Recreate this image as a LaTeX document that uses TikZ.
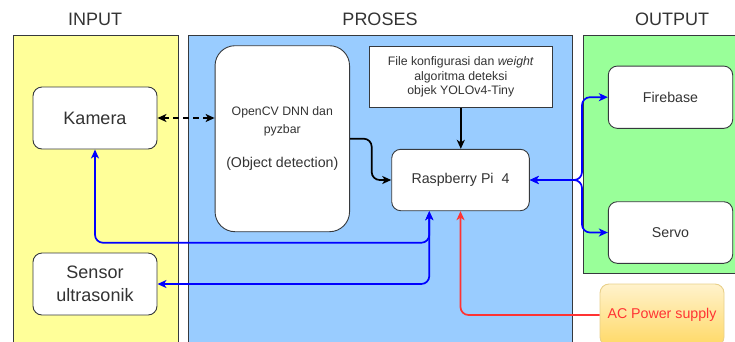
\documentclass[tikz,border=0pt]{standalone}
\usepackage{fontspec}
\setmainfont{Liberation Sans}
\usetikzlibrary{arrows.meta,calc,shadings}
\definecolor{txt}{HTML}{333333}
\definecolor{yel}{HTML}{FFFF99}
\definecolor{blu}{HTML}{99CCFF}
\definecolor{grn}{HTML}{99FF99}
\definecolor{bord}{HTML}{36393D}
\definecolor{acred}{HTML}{FF3333}
\definecolor{actop}{HTML}{FFF2CC}
\definecolor{acbot}{HTML}{FFD966}
\definecolor{acbord}{HTML}{E8D08A}
\definecolor{linkblue}{HTML}{0000FF}
\tikzset{
  panel/.style={draw=bord, line width=0.8pt, inner sep=0pt},
  box/.style={draw=bord, line width=0.9pt, fill=white, rounded corners=9pt, inner sep=0pt, align=center, text=txt},
  title/.style={font=\fontsize{18}{20}\selectfont, text=txt, inner sep=0pt},
  conn/.style={line width=1.7pt, rounded corners=8pt},
  arr/.style={conn, -{Stealth[length=9pt,width=8pt,inset=2.5pt]}},
  darr/.style={conn, {Stealth[length=9pt,width=8pt,inset=2.5pt]}-{Stealth[length=9pt,width=8pt,inset=2.5pt]}},
}
\begin{document}
\begin{tikzpicture}[x=1pt,y=-1pt]
\useasboundingbox (0,0) rectangle (735,341);
% panels
\node[panel, fill=yel, minimum width=165pt, minimum height=320pt] (pin) at (95.5,195.5) {};
\node[panel, fill=blu, minimum width=384.5pt, minimum height=320pt] (ppr) at (380.25,195.5) {};
\node[panel, fill=grn, minimum width=170pt, minimum height=238pt] (pout) at (668,154.2) {};
% titles
\node[title] (tin) at (95,19) {INPUT};
\node[title] (tpr) at (380,19) {PROSES};
\node[title] (tout) at (672,19) {OUTPUT};
% boxes
\node[box, minimum width=124pt, minimum height=62pt, font=\fontsize{18}{23}\selectfont] (kamera) at (95,118) {Kamera};
\node[box, minimum width=124pt, minimum height=62pt, font=\fontsize{18}{23.3}\selectfont] (sensor) at (95,284) {Sensor\\ultrasonik};
\node[box, rounded corners=20pt, minimum width=134.5pt, minimum height=186pt, font=\fontsize{12.3}{17.7}\selectfont] (opencv) at (282.3,138.7) {OpenCV DNN dan\\pyzbar\\[16pt]{\fontsize{14.2}{17}\selectfont (Object detection)}};
\node[box, rounded corners=0pt, minimum width=183pt, minimum height=61.7pt, font=\fontsize{12.3}{14.5}\selectfont] (file) at (460.8,76.9) {File konfigurasi dan \textit{weight}\\algoritma deteksi\\objek YOLOv4-Tiny};
\node[box, minimum width=137.6pt, minimum height=61.4pt, font=\fontsize{14.2}{17}\selectfont] (rpi) at (460.5,180) {Raspberry Pi\ \ 4};
\node[box, minimum width=124.4pt, minimum height=62.3pt, font=\fontsize{14.2}{17}\selectfont] (firebase) at (670.5,97.2) {Firebase};
\node[box, minimum width=124.4pt, minimum height=61.6pt, font=\fontsize{14.2}{17}\selectfont] (servo) at (670.5,232.5) {Servo};
\node[box, draw=acbord, top color=actop, bottom color=acbot, minimum width=124pt, minimum height=62pt, text=acred, font=\fontsize{14.2}{17}\selectfont] (ac) at (662,315) {AC Power supply};
% connectors
\draw[darr, dashed, dash pattern=on 6pt off 4pt, black] (kamera.east) -- (kamera.east -| opencv.west);
\coordinate (bend) at (371.7,180);
\draw[arr, black] (opencv.east) -| (bend) -- (rpi.west);
\draw[arr, black] (file.south) -- (file.south |- rpi.north);
\coordinate (rpib) at ($(rpi.south)+(-31.2,0)$);
\coordinate (c1) at ($(rpib)+(0,31.6)$);
\draw[darr, linkblue] (kamera.south) |- (c1) -- (rpib);
\draw[darr, linkblue] (sensor.east) -| (rpib);
\draw[arr, acred] (ac.west) -| (rpi.south);
\coordinate (jn) at (582,180);
\draw[darr, linkblue] (rpi.east) -- (jn) |- (firebase.west);
\draw[darr, linkblue] (rpi.east) -- (jn) |- (servo.west);
\end{tikzpicture}
\end{document}
